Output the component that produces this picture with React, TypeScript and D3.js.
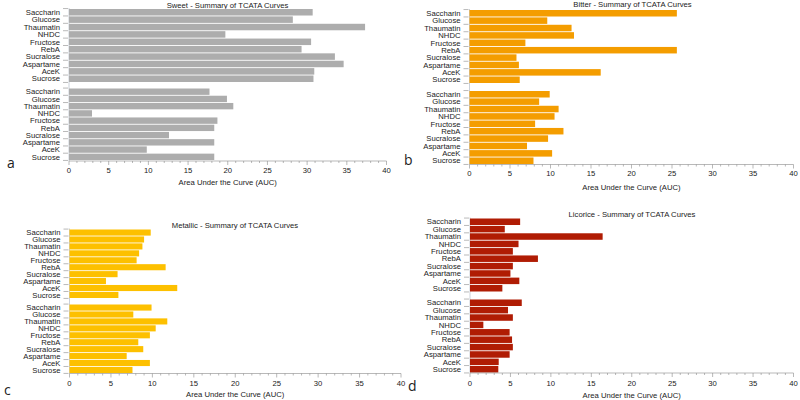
import React from "react";
import * as d3 from "d3";

// categories top to bottom in each group
const categories = [
  "Saccharin",
  "Glucose",
  "Thaumatin",
  "NHDC",
  "Fructose",
  "RebA",
  "Sucralose",
  "Aspartame",
  "AceK",
  "Sucrose",
];

// AUC values, upper group and lower group for each attribute
const sweetTop = [30.7, 28.2, 37.3, 19.7, 30.5, 29.3, 33.5, 34.6, 30.9, 30.8];
const sweetBottom = [17.7, 19.9, 20.7, 2.9, 18.7, 18.3, 12.6, 18.3, 9.8, 18.3];
const bitterTop = [25.6, 9.6, 12.6, 12.9, 6.9, 25.6, 5.8, 6.1, 16.2, 6.2];
const bitterBottom = [9.9, 8.6, 11.0, 10.5, 8.1, 11.6, 9.7, 7.1, 10.2, 7.9];
const metallicTop = [9.8, 9.0, 8.8, 8.4, 8.1, 11.6, 5.8, 4.4, 13.0, 5.9];
const metallicBottom = [9.9, 7.7, 11.8, 10.4, 9.7, 8.3, 8.9, 6.9, 9.7, 7.6];
const licoriceTop = [6.2, 4.3, 16.4, 6.0, 5.3, 8.4, 5.3, 5.0, 6.1, 4.0];
const licoriceBottom = [6.4, 4.7, 5.3, 1.65, 4.9, 5.2, 5.3, 4.9, 3.55, 3.5];

const xTicks = [0, 5, 10, 15, 20, 25, 30, 35, 40];
const xDomain: [number, number] = [0, 40];

const FONT = "'Liberation Sans', Arial, Helvetica, sans-serif";
const FS = 7.7;

type PanelProps = {
  title: string;
  letter: string;
  top: number[];
  bottom: number[];
  color: string;
  x0: number;
  x1: number;
  g1: [number, number];
  g2: [number, number];
  axisY: number;
  titleY: number;
  titleX: number;
  labelY: number;
  axisTitleY: number;
  letterX: number;
  letterY: number;
};

const Panel = (p: PanelProps) => {
  const x = d3.scaleLinear().domain(xDomain).range([p.x0, p.x1]);
  const y1 = d3.scaleBand().domain(categories).range(p.g1).paddingInner(0.12);
  const y2 = d3.scaleBand().domain(categories).range(p.g2).paddingInner(0.12);
  const minor = d3.range(0, 41, 1);

  const group = (y: d3.ScaleBand<string>, vals: number[], key: string) => {
    const step = y.step();
    const bounds = d3.range(categories.length + 1).map(
      (i) => y.range()[0] + i * step - (step * 0.12) / 2
    );
    return (
      <g key={key}>
        {bounds.map((b, i) => (
          <line
            key={"t" + i}
            x1={p.x0 - 6}
            x2={p.x0 - 1}
            y1={b}
            y2={b}
            stroke="#8a8a8a"
            strokeWidth={0.6}
          />
        ))}
        {categories.map((c, i) => (
          <g key={c}>
            <rect
              x={x(0)}
              y={y(c)}
              width={x(vals[i]) - x(0)}
              height={y.bandwidth()}
              fill={p.color}
            />
            <text
              x={p.x0 - 9}
              y={(y(c) as number) + y.bandwidth() / 2}
              dy="0.35em"
              textAnchor="end"
              fontSize={FS}
              fill="#222"
            >
              {c}
            </text>
          </g>
        ))}
      </g>
    );
  };

  return (
    <g fontFamily={FONT}>
      <text x={p.titleX} y={p.titleY} textAnchor="middle" fontSize={FS} fill="#222">
        {p.title}
      </text>
      <line
        x1={p.x0}
        x2={p.x0}
        y1={p.g1[0] - 1}
        y2={p.axisY}
        stroke="#a8b2c0"
        strokeWidth={0.6}
      />
      {group(y1, p.top, "top")}
      {group(y2, p.bottom, "bottom")}
      <line x1={p.x0} x2={p.x1} y1={p.axisY} y2={p.axisY} stroke="#8a8a8a" strokeWidth={0.6} />
      {minor.map((m) => (
        <line
          key={m}
          x1={x(m)}
          x2={x(m)}
          y1={p.axisY}
          y2={p.axisY + (m % 5 === 0 ? 4 : 2)}
          stroke="#8a8a8a"
          strokeWidth={0.6}
        />
      ))}
      {xTicks.map((t) => (
        <text
          key={t}
          x={x(t)}
          y={p.labelY}
          dy="0.35em"
          textAnchor="middle"
          fontSize={FS}
          fill="#222"
        >
          {t}
        </text>
      ))}
      <text
        x={(p.x0 + p.x1) / 2}
        y={p.axisTitleY}
        dy="0.35em"
        textAnchor="middle"
        fontSize={FS}
        fill="#222"
      >
        Area Under the Curve (AUC)
      </text>
      <text
        x={p.letterX}
        y={p.letterY}
        dy="0.35em"
        fontSize={14}
        fontFamily="'Open Sans', sans-serif"
        fill="#222"
      >
        {p.letter}
      </text>
    </g>
  );
};

export default function App() {
  return (
    <svg width={800} height={400} style={{ position: "absolute", left: 0, top: 0 }}>
      <rect width={800} height={400} fill="#fff" />
      <Panel
        title="Sweet - Summary of TCATA Curves"
        letter="a"
        top={sweetTop}
        bottom={sweetBottom}
        color="#adadad"
        x0={69}
        x1={386.5}
        g1={[9, 82]}
        g2={[88.5, 160]}
        axisY={161}
        titleX={227.5}
        titleY={7.5}
        labelY={170.5}
        axisTitleY={182}
        letterX={7}
        letterY={163}
      />
      <Panel
        title="Bitter - Summary of TCATA Curves"
        letter="b"
        top={bitterTop}
        bottom={bitterBottom}
        color="#f49d00"
        x0={469.5}
        x1={793.5}
        g1={[10, 83]}
        g2={[91, 164]}
        axisY={164.5}
        titleX={632.5}
        titleY={7}
        labelY={173.5}
        axisTitleY={187}
        letterX={404}
        letterY={160}
      />
      <Panel
        title="Metallic - Summary of TCATA Curves"
        letter="c"
        top={metallicTop}
        bottom={metallicBottom}
        color="#fdc000"
        x0={69.5}
        x1={401}
        g1={[229.5, 298]}
        g2={[304.5, 373]}
        axisY={373.5}
        titleX={235}
        titleY={227.5}
        labelY={383}
        axisTitleY={394.5}
        letterX={4}
        letterY={390}
      />
      <Panel
        title="Licorice - Summary of TCATA Curves"
        letter="d"
        top={licoriceTop}
        bottom={licoriceBottom}
        color="#b01c04"
        x0={470}
        x1={793.5}
        g1={[218.5, 291.5]}
        g2={[299.5, 372.5]}
        axisY={373}
        titleX={632}
        titleY={216.5}
        labelY={383}
        axisTitleY={395.3}
        letterX={408}
        letterY={386}
      />
    </svg>
  );
}
